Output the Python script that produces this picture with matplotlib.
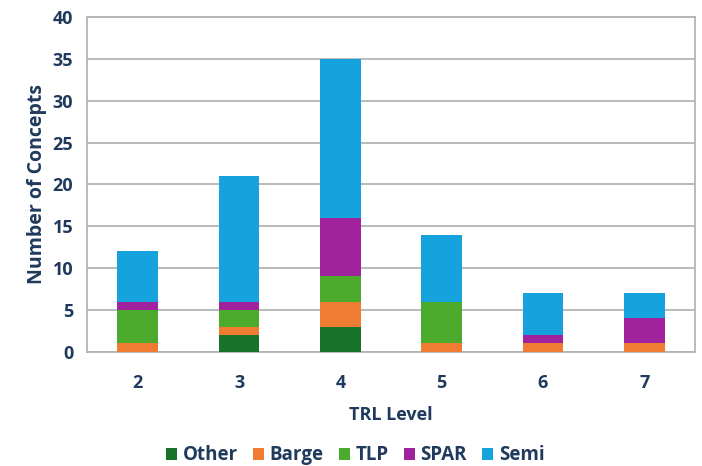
import numpy as np
import matplotlib.pyplot as plt

# concepts per TRL level, split by platform type
trl = ["2", "3", "4", "5", "6", "7"]
other = [0, 2, 3, 0, 0, 0]
barge = [1, 1, 3, 1, 1, 1]
tlp = [4, 2, 3, 5, 0, 0]
spar = [1, 1, 7, 0, 1, 3]
semi = [6, 15, 19, 8, 5, 3]

series = [("Other", other, "#17722a"),
          ("Barge", barge, "#f07b32"),
          ("TLP", tlp, "#4caa2c"),
          ("SPAR", spar, "#a0229c"),
          ("Semi", semi, "#16a2dc")]

navy = "#1f3a5c"
plt.rcParams["font.family"] = ["Open Sans", "DejaVu Sans"]
plt.rcParams["font.weight"] = "bold"

fig = plt.figure(figsize=(7.02, 4.66), dpi=100)
ax = fig.add_axes([0.124, 0.245, 0.866, 0.7185])

x = np.arange(len(trl))
bottom = np.zeros(len(trl))
for name, vals, col in series:
    ax.bar(x, vals, 0.4, bottom=bottom, color=col, label=name, zorder=3)
    bottom += np.array(vals)

ax.set_xlim(-0.5, len(trl) - 0.5)
ax.set_ylim(0, 40)
ax.set_yticks(range(0, 41, 5))
ax.set_xticks(x)
ax.set_xticklabels(trl)
ax.yaxis.grid(True, color="#b4b4b4", linewidth=1.3, zorder=0)
for s in ax.spines.values():
    s.set_color("#b4b4b4")
    s.set_linewidth(1.3)
ax.tick_params(length=0, labelsize=13, labelcolor=navy)
ax.tick_params(axis="x", pad=16)
ax.tick_params(axis="y", pad=10)
for lab in ax.get_xticklabels() + ax.get_yticklabels():
    lab.set_fontweight("bold")

ax.set_xlabel("TRL Level", fontsize=13, color=navy, fontweight="bold", labelpad=10)
ax.set_ylabel("Number of Concepts", fontsize=14, color=navy, fontweight="bold", labelpad=4)

leg = fig.legend(loc="lower center", bbox_to_anchor=(0.506, -0.035), ncol=5,
                 frameon=False, fontsize=13.5, handlelength=0.6, handleheight=0.6,
                 handletextpad=0.3, columnspacing=0.8)
for t in leg.get_texts():
    t.set_color(navy)
    t.set_fontweight("bold")

fig.savefig("out.png", dpi=100)
